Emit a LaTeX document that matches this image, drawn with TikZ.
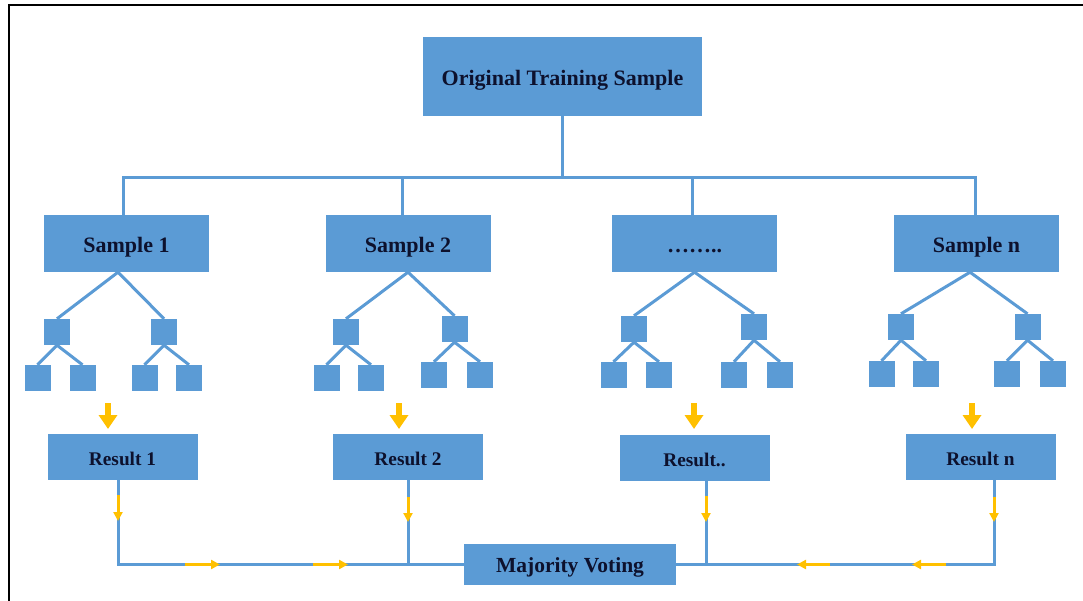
\documentclass[tikz,border=0pt]{standalone}
\usepackage{fontspec}
\setmainfont{Liberation Serif}
\usetikzlibrary{arrows.meta}
\definecolor{myblue}{HTML}{5B9BD5}
\definecolor{myyellow}{HTML}{FFC000}
\definecolor{txt}{HTML}{0D112D}
\begin{document}
\begin{tikzpicture}[x=1pt,y=-1pt,
  box/.style={fill=myblue, draw=none, inner sep=0pt, text=txt, text depth=0pt},
  bigbox/.style={box, minimum width=165pt, minimum height=57pt, text height=19pt, font={\bfseries\fontsize{22}{26}\selectfont}},
  resbox/.style={box, minimum width=150pt, minimum height=46pt, text height=17pt, font={\bfseries\fontsize{19.3}{23}\selectfont}},
  sq/.style={fill=myblue, draw=none, inner sep=0pt, minimum size=26pt},
  conn/.style={draw=myblue, line width=3pt},
  bigarr/.style={draw=myyellow, line width=5.5pt, -{Triangle[width=18pt,length=14pt]}},
  smallarr/.style={draw=myyellow, line width=3pt, -{Triangle[width=9pt,length=9pt]}}]
\useasboundingbox (0,0) rectangle (1083,601);
\fill[white] (0,0) rectangle (1083,601);
% frame
\draw[black, line width=2pt] (8.5,601) -- (8.5,5.5) -- (1083,5.5);

% top node
\node[box, minimum width=279pt, minimum height=79pt, text height=19pt, font={\bfseries\fontsize{22}{26}\selectfont}] (ots) at (562.5,76.5) {Original Training Sample};

% samples
\node[bigbox] (s1) at (126.5,243.5) {Sample 1};
\node[bigbox] (s2) at (408,243.5) {Sample 2};
\node[bigbox] (s3) at (694.5,243.5) {\ldots\ldots..};
\node[bigbox] (s4) at (976.5,243.5) {Sample n};

% results
\node[resbox] (r1) at (122.5,457) {Result 1};
\node[resbox] (r2) at (408,457) {Result 2};
\node[resbox] (r3) at (694.5,457.5) {Result..};
\node[resbox] (r4) at (980.5,457) {Result n};

% majority voting
\node[box, minimum width=212pt, minimum height=41pt, text height=16pt, font={\bfseries\fontsize{21.5}{25}\selectfont}] (mv) at (570,564.5) {Majority Voting};

% bus from top node to samples
\draw[conn] (ots.south) -- (ots.south |- 0,178) coordinate (busc);
\draw[conn] ([xshift=-3.5pt]s1.north) -- ([xshift=-3.5pt]s1.north |- busc) -- ([xshift=-1.5pt]s4.north |- busc) -- ([xshift=-1.5pt]s4.north);
\draw[conn] ([xshift=-6pt]s2.north) -- ([xshift=-6pt]s2.north |- busc);
\draw[conn] ([xshift=-2.5pt]s3.north) -- ([xshift=-2.5pt]s3.north |- busc);

% trees
\foreach \i/\ap/\ax/\ay/\bx/\by/\ya/\yb/\la/\lb/\lc/\ld in {
  1/-8.5/57/332/164/332/378/378/37.5/82.5/144.5/189,
  2/0/346/332/454.5/329/378/375/326.5/371/434/480,
  3/0/634/329/754/327/375/375/613.5/659/734/780,
  4/-6.5/901/327/1027.5/327/374/374/881.5/926/1007/1053}
{
  \node[sq] (t\i-a) at (\ax,\ay) {};
  \node[sq] (t\i-b) at (\bx,\by) {};
  \node[sq] (t\i-aa) at (\la,\ya) {};
  \node[sq] (t\i-ab) at (\lb,\ya) {};
  \node[sq] (t\i-ba) at (\lc,\yb) {};
  \node[sq] (t\i-bb) at (\ld,\yb) {};
  \draw[conn] ([xshift=\ap pt]s\i.south) -- (t\i-a.north);
  \draw[conn] ([xshift=\ap pt]s\i.south) -- (t\i-b.north);
  \draw[conn] (t\i-a.south) -- (t\i-aa.north);
  \draw[conn] (t\i-a.south) -- (t\i-ab.north);
  \draw[conn] (t\i-b.south) -- (t\i-ba.north);
  \draw[conn] (t\i-b.south) -- (t\i-bb.north);
}

% big yellow arrows from trees to results
\coordinate (y1s) at (108,403); \coordinate (y1e) at (108,429);
\coordinate (y2s) at (399,403); \coordinate (y2e) at (399,429);
\coordinate (y3s) at (694,403); \coordinate (y3e) at (694,429);
\coordinate (y4s) at (972,403); \coordinate (y4e) at (972,429);
\foreach \k in {1,2,3,4} { \draw[bigarr] (y\k s) -- (y\k e); }

% result lines to majority voting
\draw[conn] ([xshift=-4.5pt]r1.south) |- (mv.west);
\draw[conn] (r2.south) -- (r2.south |- mv.west);
\draw[conn] ([xshift=13.5pt]r4.south) |- (mv.east);
\draw[conn] ([xshift=11.5pt]r3.south) -- ([xshift=11.5pt]r3.south |- mv.east);

% small yellow arrows on the lines
\draw[smallarr] (118,495) -- (118,521);
\draw[smallarr] (408,497) -- (408,522);
\draw[smallarr] (706,496) -- (706,522);
\draw[smallarr] (994,497) -- (994,522);
\draw[smallarr] (185,564.5) -- (220,564.5);
\draw[smallarr] (313,564.5) -- (348,564.5);
\draw[smallarr] (946,564.5) -- (912,564.5);
\draw[smallarr] (830,564.5) -- (797,564.5);
\end{tikzpicture}
\end{document}
